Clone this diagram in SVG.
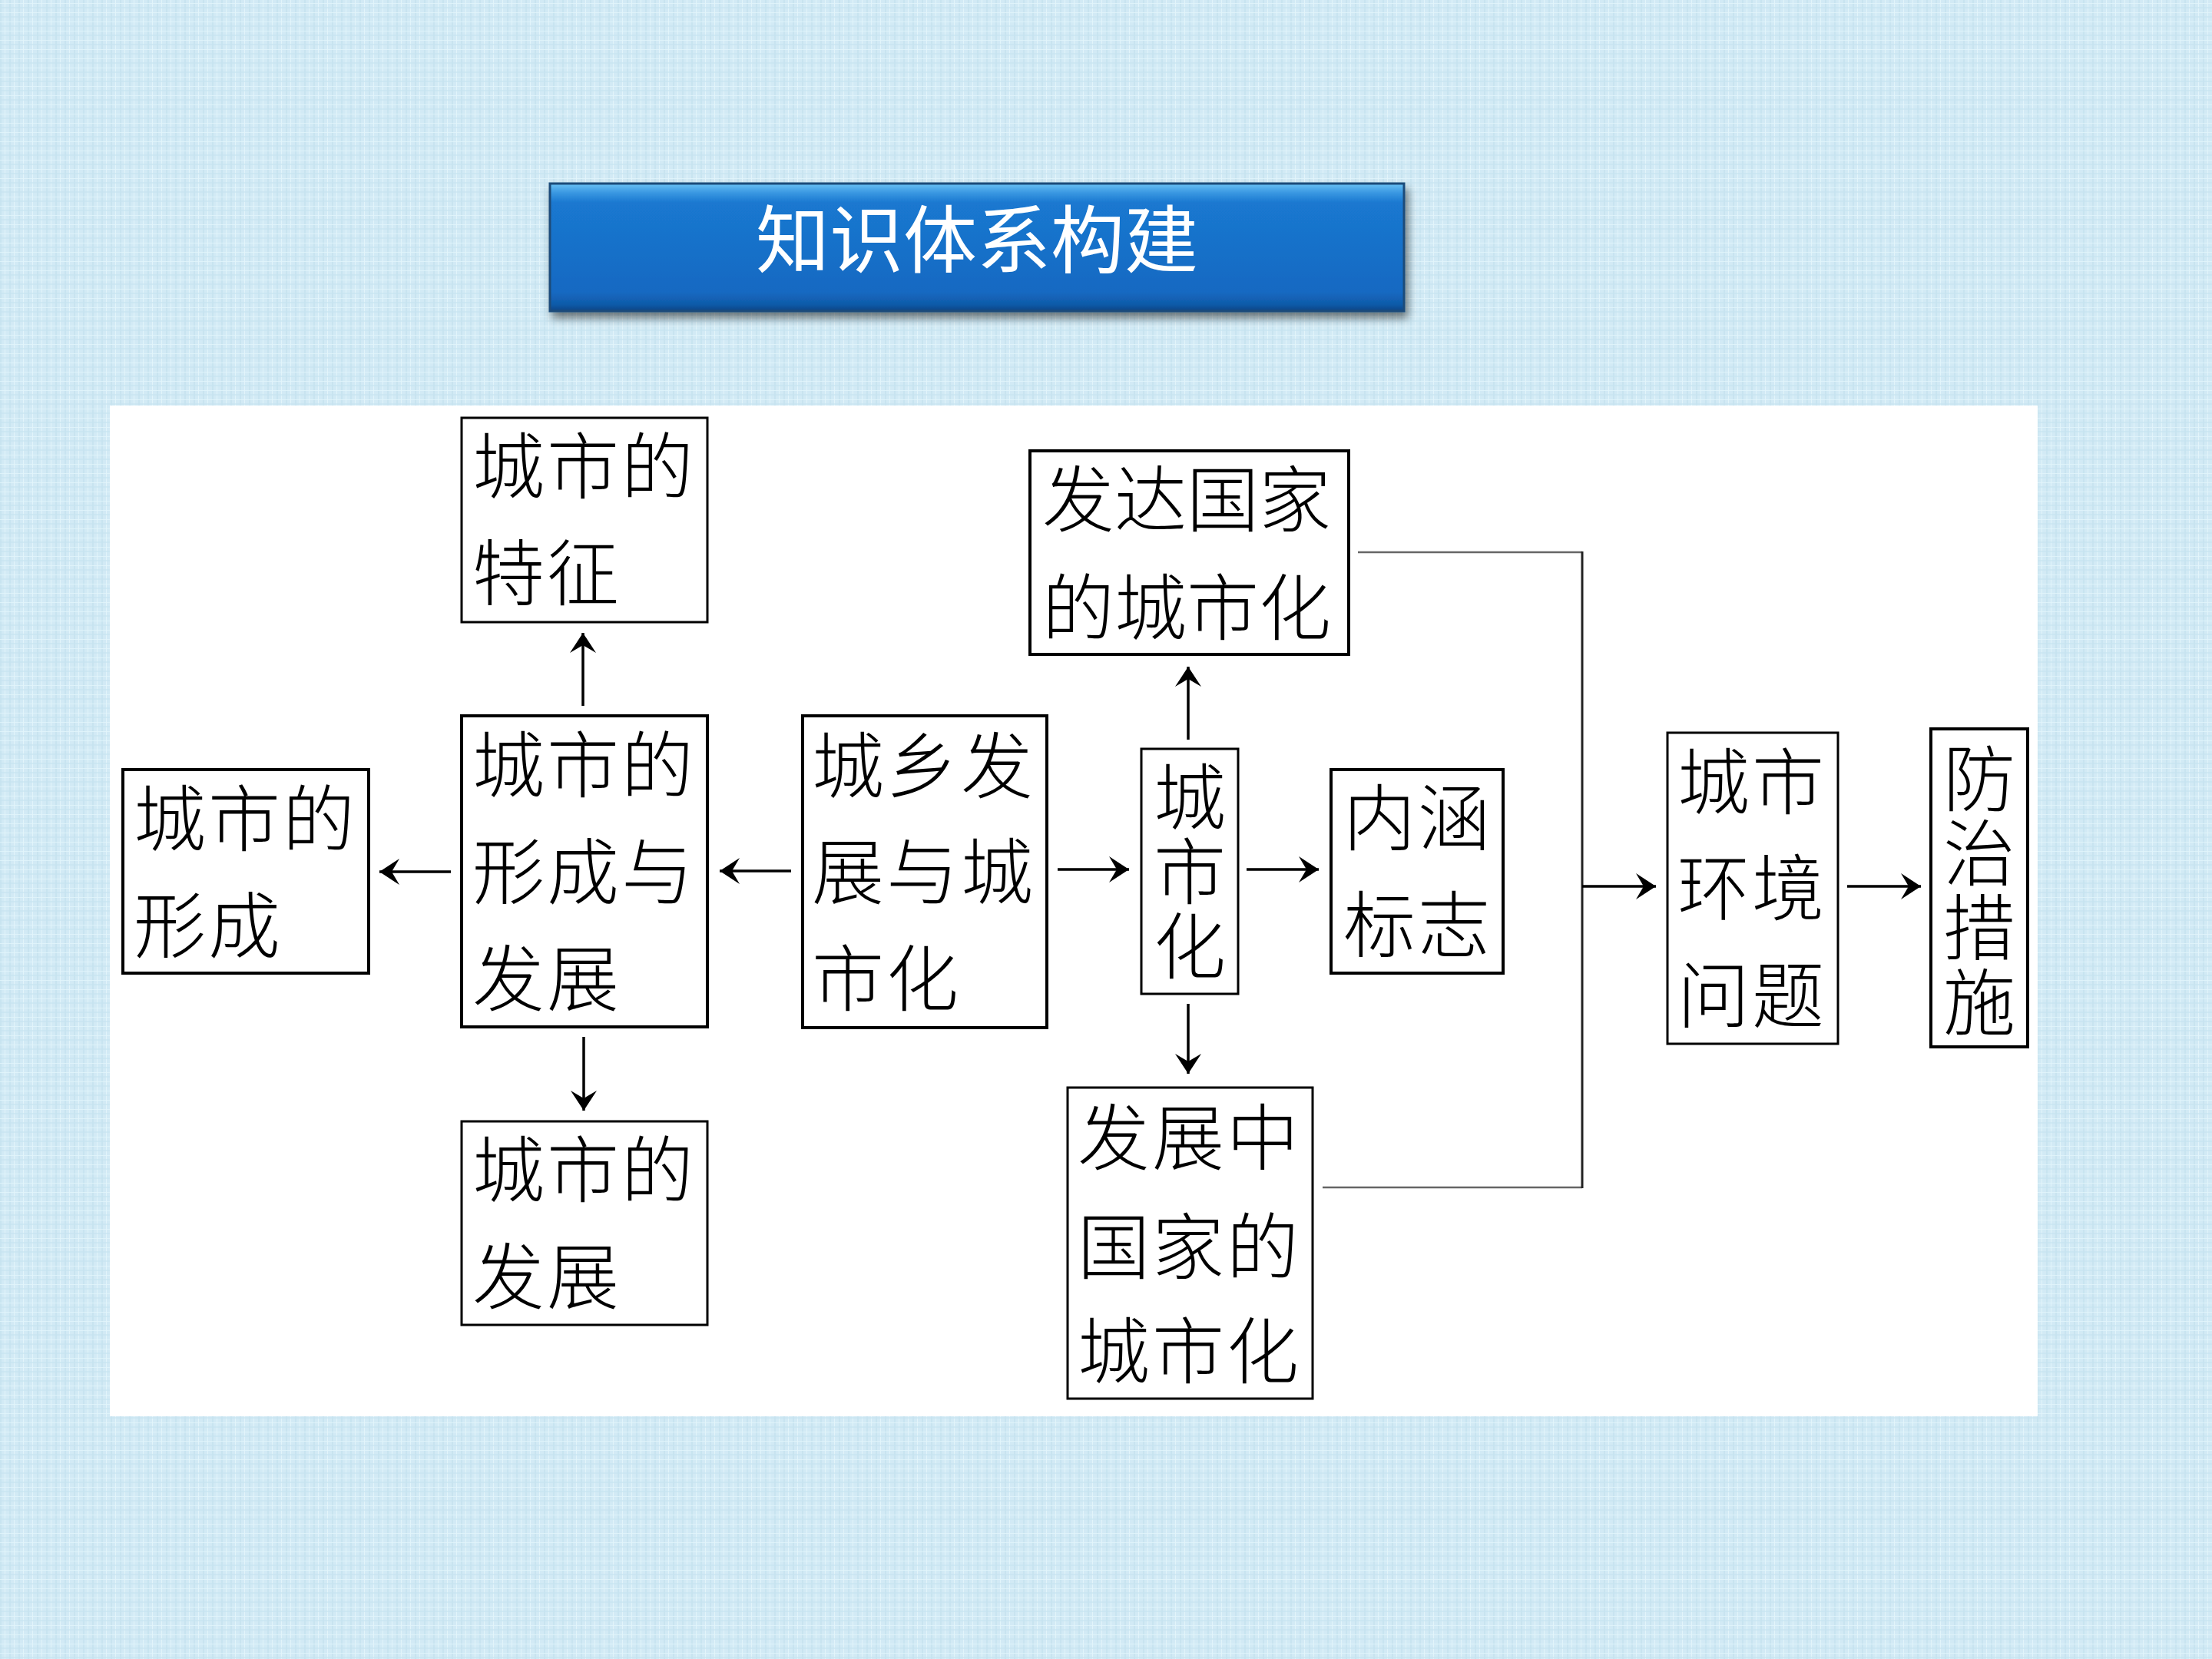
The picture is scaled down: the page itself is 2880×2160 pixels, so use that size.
<svg xmlns="http://www.w3.org/2000/svg" width="2880" height="2160" viewBox="0 0 2880 2160">
  <defs>
    <pattern id="tex" x="0" y="0" width="12" height="12" patternUnits="userSpaceOnUse">
      <rect width="12" height="12" fill="#d2eaf5"/>
      <rect x="0" y="0" width="2" height="12" fill="#c3e1ef" opacity="0.7"/>
      <rect x="6" y="0" width="1" height="12" fill="#e4f6fb" opacity="0.9"/>
      <rect x="0" y="4" width="12" height="1" fill="#e2f5fb" opacity="0.8"/>
      <rect x="0" y="9" width="12" height="2" fill="#c6e3f0" opacity="0.6"/>
    </pattern>
    <linearGradient id="bar" x1="0" y1="0" x2="0" y2="1">
      <stop offset="0" stop-color="#6cc2f4"/>
      <stop offset="0.07" stop-color="#3a98e2"/>
      <stop offset="0.15" stop-color="#1a78d0"/>
      <stop offset="0.85" stop-color="#1669c2"/>
      <stop offset="0.95" stop-color="#0f5aa8"/>
      <stop offset="1" stop-color="#0a4584"/>
    </linearGradient>
    <filter id="shadow" x="-5%" y="-20%" width="110%" height="150%">
      <feGaussianBlur in="SourceAlpha" stdDeviation="6"/>
      <feOffset dx="4" dy="8" result="b"/>
      <feComponentTransfer><feFuncA type="linear" slope="0.5"/></feComponentTransfer>
      <feMerge><feMergeNode/><feMergeNode in="SourceGraphic"/></feMerge>
    </filter>
    <marker id="arr" viewBox="-28 -18 30 36" markerWidth="30" markerHeight="36" refX="0" refY="0" orient="auto" markerUnits="userSpaceOnUse">
      <path d="M0,0 L-26,-17 L-16,0 L-26,17 Z" fill="#000"/>
    </marker>
  </defs>
  <style>
    .box { fill: #ffffff; stroke: #000000; stroke-width: 4; }
    .thin { stroke-width: 3; }
    .t { font-family: "Noto Sans CJK SC", "Noto Sans CJK TC", sans-serif; font-size: 94px; fill: #000; font-weight: 300; letter-spacing: 3px; }
    .v { writing-mode: vertical-rl; text-orientation: upright; }
    .ln { stroke: #000; stroke-width: 3.5; fill: none; }
    .br { stroke: #222; stroke-width: 3; fill: none; }
    .brg { stroke: #666; stroke-width: 2.5; fill: none; }
  </style>

  <rect x="0" y="0" width="2880" height="2160" fill="url(#tex)"/>

  <g id="title">
    <rect x="716" y="239" width="1112" height="166" fill="url(#bar)" stroke="#1d4c7a" stroke-width="3" filter="url(#shadow)"/>
    <text x="1272" y="347" font-family="Noto Sans CJK SC, sans-serif" font-size="96" fill="#ffffff" text-anchor="middle">知识体系构建</text>
  </g>

  <rect id="panel" x="143" y="528" width="2510" height="1316" fill="#ffffff"/>

  <g id="connectors">
    <line class="ln" x1="759" y1="919" x2="759" y2="824" marker-end="url(#arr)"/>
    <line class="ln" x1="760" y1="1350" x2="760" y2="1446" marker-end="url(#arr)"/>
    <line class="ln" x1="587" y1="1135" x2="494" y2="1135" marker-end="url(#arr)"/>
    <line class="ln" x1="1030" y1="1134" x2="937" y2="1134" marker-end="url(#arr)"/>
    <line class="ln" x1="1377" y1="1132" x2="1470" y2="1132" marker-end="url(#arr)"/>
    <line class="ln" x1="1623" y1="1132" x2="1717" y2="1132" marker-end="url(#arr)"/>
    <line class="ln" x1="1547" y1="963" x2="1547" y2="868" marker-end="url(#arr)"/>
    <line class="ln" x1="1547" y1="1307" x2="1547" y2="1398" marker-end="url(#arr)"/>
    <polyline class="brg" points="1768,719 2060,719"/>
    <polyline class="brg" points="1722,1546 2060,1546"/>
    <line class="br" x1="2060" y1="718" x2="2060" y2="1547"/>
    <line class="ln" x1="2060" y1="1154" x2="2156" y2="1154" marker-end="url(#arr)"/>
    <line class="ln" x1="2405" y1="1154" x2="2501" y2="1154" marker-end="url(#arr)"/>
  </g>

  <g id="node-tezheng">
    <rect class="box thin" x="601" y="544" width="320" height="266"/>
    <text class="t" x="615" y="642">城市的</text>
    <text class="t" x="615" y="781">特征</text>
  </g>

  <g id="node-xingchengfazhan">
    <rect class="box" x="601" y="932" width="320" height="405"/>
    <text class="t" x="615" y="1031">城市的</text>
    <text class="t" x="615" y="1170">形成与</text>
    <text class="t" x="615" y="1309">发展</text>
  </g>

  <g id="node-fazhan">
    <rect class="box thin" x="601" y="1460" width="320" height="265"/>
    <text class="t" x="615" y="1558">城市的</text>
    <text class="t" x="615" y="1697">发展</text>
  </g>

  <g id="node-xingcheng">
    <rect class="box" x="160" y="1002" width="320" height="265"/>
    <text class="t" x="174" y="1101">城市的</text>
    <text class="t" x="174" y="1240">形成</text>
  </g>

  <g id="node-chengxiang">
    <rect class="box" x="1045" y="932" width="318" height="406"/>
    <text class="t" x="1057" y="1032">城乡发</text>
    <text class="t" x="1057" y="1170">展与城</text>
    <text class="t" x="1057" y="1309">市化</text>
  </g>

  <g id="node-chengshihua">
    <rect class="box thin" x="1486" y="975" width="126" height="319"/>
    <text class="t v" x="1549" y="990">城市化</text>
  </g>

  <g id="node-fada">
    <rect class="box" x="1341" y="587" width="415" height="265"/>
    <text class="t" x="1357" y="685" style="letter-spacing:0">发达国家</text>
    <text class="t" x="1357" y="826" style="letter-spacing:0">的城市化</text>
  </g>

  <g id="node-neihan">
    <rect class="box" x="1733" y="1002" width="224" height="265"/>
    <text class="t" x="1749" y="1100">内涵</text>
    <text class="t" x="1749" y="1239">标志</text>
  </g>

  <g id="node-fazhanzhong">
    <rect class="box thin" x="1390" y="1416" width="319" height="405"/>
    <text class="t" x="1403" y="1516">发展中</text>
    <text class="t" x="1403" y="1658">国家的</text>
    <text class="t" x="1403" y="1794">城市化</text>
  </g>

  <g id="node-huanjing">
    <rect class="box thin" x="2171" y="954" width="222" height="405"/>
    <text class="t" x="2184" y="1053">城市</text>
    <text class="t" x="2184" y="1191">环境</text>
    <text class="t" x="2184" y="1331">问题</text>
  </g>

  <g id="node-fangzhi">
    <rect class="box" x="2514" y="949" width="126" height="414"/>
    <text class="t v" x="2577" y="966">防治措施</text>
  </g>
</svg>
